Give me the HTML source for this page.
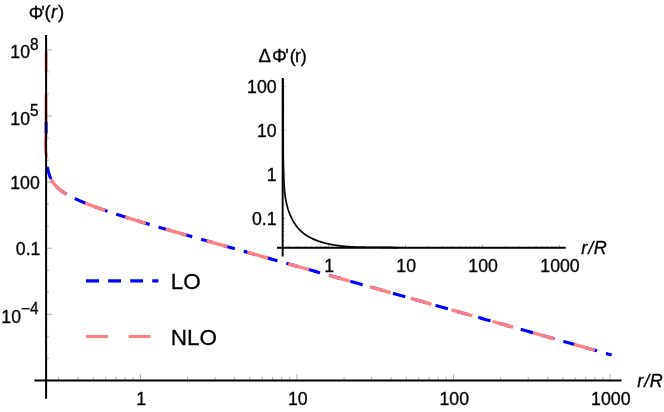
<!DOCTYPE html><html><head><meta charset="utf-8"><title>chart</title><style>html,body{margin:0;padding:0;background:#fff;overflow:hidden}svg{will-change:transform;transform:translateZ(0)}text{fill:#000;stroke:#000;stroke-width:0.3px}</style></head><body><svg width="664" height="412" viewBox="0 0 664 412" style="display:block;font-family:'Liberation Sans',sans-serif">
<rect width="664" height="412" fill="#fff"/>
<path d="M47.48,166.24 L47.54,166.72 L47.61,167.18 L47.68,167.61 L47.74,168.03 L47.81,168.43 L47.88,168.82 L47.95,169.19 L48.01,169.55 L48.08,169.89 L48.15,170.23 L48.22,170.55 L48.28,170.86 L48.35,171.16 L48.42,171.45 L48.49,171.74 L48.55,172.02 L48.62,172.29 L48.69,172.55 L48.75,172.80 L48.82,173.05 L48.89,173.29 L48.96,173.53 L49.02,173.76 L49.09,173.99 L49.16,174.21 L49.23,174.43 L49.29,174.64 L49.36,174.85 L49.43,175.05 L49.50,175.25 L49.56,175.44 L49.63,175.63 L49.70,175.82 L49.76,176.01 L49.83,176.19 L49.90,176.37 L49.97,176.54 L50.03,176.71 L50.10,176.88 L50.17,177.05 L50.24,177.21 L50.30,177.37 L50.37,177.53 L50.44,177.69 L50.51,177.84 L50.57,177.99 L50.64,178.14 L50.71,178.29 L50.77,178.43 L50.84,178.58 L50.91,178.72 L50.98,178.86 L51.04,178.99 L51.11,179.13 L51.18,179.26 L51.25,179.40 L51.31,179.53 L51.38,179.65 L51.45,179.78 L51.52,179.91 L51.58,180.03 L51.65,180.15 L51.72,180.28 L51.78,180.40 L51.85,180.51 L51.92,180.63 L51.99,180.75 L52.05,180.86 L52.12,180.98 L52.19,181.09 L52.26,181.20 L52.32,181.31 L52.39,181.42 L52.46,181.53 L52.53,181.63 L52.59,181.74 L52.66,181.84 L52.73,181.95 L52.79,182.05 L52.86,182.15 L52.93,182.25 L53.00,182.35 L53.06,182.45 L53.13,182.55 L53.20,182.65 L53.27,182.74 L53.33,182.84 L53.40,182.93 L53.47,183.03 L53.54,183.12 L53.60,183.21 L53.67,183.30 L53.74,183.39 L53.81,183.48 L53.87,183.57 L53.94,183.66 L54.01,183.75 L54.07,183.84 L54.14,183.92 L54.21,184.01 L54.28,184.09 L54.34,184.18 L54.41,184.26 L54.48,184.35 L54.55,184.43 L54.61,184.51 L54.68,184.59 L54.75,184.67 L54.82,184.75 L54.88,184.83 L54.95,184.91 L55.02,184.99 L55.08,185.07 L55.15,185.15 L55.22,185.22 L55.29,185.30 L55.35,185.38 L55.42,185.45 L55.49,185.53 L55.56,185.60 L55.62,185.68 L55.69,185.75 L55.76,185.82 L55.83,185.90 L55.89,185.97 L55.96,186.04 L56.03,186.11 L56.09,186.18 L56.16,186.25 L56.23,186.32 L56.30,186.39 L56.36,186.46 L56.43,186.53 L56.50,186.60 L56.57,186.67 L56.63,186.74 L56.70,186.80 L56.77,186.87 L56.84,186.94 L56.90,187.00 L56.97,187.07 L57.04,187.14 L57.10,187.20 L57.17,187.27 L57.24,187.33 L57.31,187.39 L57.37,187.46 L57.44,187.52 L57.51,187.59 L57.58,187.65 L57.64,187.71 L57.71,187.77 L57.78,187.84 L57.85,187.90 L57.91,187.96 L57.98,188.02 L58.05,188.08 L58.11,188.14 L58.18,188.20 L58.25,188.26 L58.32,188.32 L58.38,188.38 L58.45,188.44 L58.52,188.50 L58.59,188.56 L58.65,188.62 L58.72,188.67 L58.79,188.73 L58.86,188.79 L58.92,188.85 L58.99,188.90 L59.06,188.96 L59.12,189.02 L59.19,189.07 L59.26,189.13 L59.33,189.18 L59.39,189.24 L59.46,189.30 L59.53,189.35 L59.60,189.41 L59.66,189.46 L59.73,189.51 L59.80,189.57 L59.87,189.62 L59.93,189.68 L60.00,189.73 L60.92,190.44 L61.84,191.12 L62.76,191.77 L63.68,192.39 L64.60,192.99 L65.53,193.56 L66.45,194.12 L67.37,194.66 L68.29,195.18 L69.21,195.69 L70.13,196.18 L71.05,196.67 L71.97,197.14 L72.89,197.60 L73.81,198.05 L74.73,198.49 L75.65,198.93 L76.58,199.35 L77.50,199.77 L78.42,200.19 L79.34,200.59 L80.26,201.00 L81.18,201.39 L82.10,201.78 L83.02,202.17 L83.94,202.55 L84.86,202.92 L85.78,203.30 L86.71,203.66 L87.63,204.03 L88.55,204.39 L89.47,204.75 L90.39,205.10 L91.31,205.45 L92.23,205.80 L93.15,206.15 L94.07,206.49 L94.99,206.83 L95.91,207.17 L96.83,207.50 L97.76,207.83 L98.68,208.17 L99.60,208.49 L100.52,208.82 L101.44,209.15 L102.36,209.47 L103.28,209.79 L104.20,210.11 L105.12,210.43 L106.04,210.74 L106.96,211.06 L107.89,211.37 L108.81,211.68 L109.73,211.99 L110.65,212.30 L111.57,212.61 L112.49,212.91 L113.41,213.22 L114.33,213.52 L115.25,213.82 L116.17,214.12 L117.09,214.42 L118.01,214.72 L118.94,215.02 L119.86,215.32 L120.78,215.61 L121.70,215.91 L122.62,216.20 L123.54,216.49 L124.46,216.79 L125.38,217.08 L126.30,217.37 L127.22,217.66 L128.14,217.95 L129.07,218.23 L129.99,218.52 L130.91,218.81 L131.83,219.09 L132.75,219.38 L133.67,219.66 L134.59,219.94 L135.51,220.23 L136.43,220.51 L137.35,220.79 L138.27,221.07 L139.19,221.35 L140.12,221.63 L141.04,221.91 L141.96,222.18 L142.88,222.46 L143.80,222.74 L144.72,223.02 L145.64,223.29 L146.56,223.57 L147.48,223.84 L148.40,224.11 L149.32,224.39 L150.25,224.66 L151.17,224.93 L152.09,225.21 L153.01,225.48 L153.93,225.75 L154.85,226.02 L155.77,226.29 L156.69,226.56 L157.61,226.83 L158.53,227.10 L159.45,227.37 L160.37,227.64 L161.30,227.91 L162.22,228.17 L163.14,228.44 L164.06,228.71 L164.98,228.98 L165.90,229.24 L166.82,229.51 L167.74,229.77 L168.66,230.04 L169.58,230.31 L170.50,230.57 L171.43,230.84 L172.35,231.10 L173.27,231.36 L174.19,231.63 L175.11,231.89 L176.03,232.16 L176.95,232.42 L177.87,232.68 L178.79,232.94 L179.71,233.21 L180.63,233.47 L181.55,233.73 L182.48,233.99 L183.40,234.26 L184.32,234.52 L185.24,234.78 L186.16,235.04 L187.08,235.30 L188.00,235.56 L188.92,235.82 L189.84,236.08 L190.76,236.35 L191.68,236.61 L192.61,236.87 L193.53,237.13 L194.45,237.39 L195.37,237.65 L196.29,237.91 L197.21,238.17 L198.13,238.43 L199.05,238.69 L199.97,238.95 L200.89,239.20 L201.81,239.46 L202.73,239.72 L203.66,239.98 L204.58,240.24 L205.50,240.50 L206.42,240.76 L207.34,241.02 L208.26,241.28 L209.18,241.54 L210.10,241.80 L211.02,242.06 L211.94,242.31 L212.86,242.57 L213.78,242.83 L214.71,243.09 L215.63,243.35 L216.55,243.61 L217.47,243.87 L218.39,244.13 L219.31,244.38 L220.23,244.64 L221.15,244.90 L222.07,245.16 L222.99,245.42 L223.91,245.68 L224.84,245.94 L225.76,246.19 L226.68,246.45 L227.60,246.71 L228.52,246.97 L229.44,247.23 L230.36,247.49 L231.28,247.75 L232.20,248.01 L233.12,248.26 L234.04,248.52 L234.96,248.78 L235.89,249.04 L236.81,249.30 L237.73,249.56 L238.65,249.82 L239.57,250.08 L240.49,250.33 L241.41,250.59 L242.33,250.85 L243.25,251.11 L244.17,251.37 L245.09,251.63 L246.02,251.89 L246.94,252.15 L247.86,252.41 L248.78,252.67 L249.70,252.92 L250.62,253.18 L251.54,253.44 L252.46,253.70 L253.38,253.96 L254.30,254.22 L255.22,254.48 L256.14,254.74 L257.07,255.00 L257.99,255.26 L258.91,255.52 L259.83,255.78 L260.75,256.04 L261.67,256.29 L262.59,256.55 L263.51,256.81 L264.43,257.07 L265.35,257.33 L266.27,257.59 L267.20,257.85 L268.12,258.11 L269.04,258.37 L269.96,258.63 L270.88,258.89 L271.80,259.15 L272.72,259.41 L273.64,259.67 L274.56,259.93 L275.48,260.19 L276.40,260.45 L277.32,260.71 L278.25,260.97 L279.17,261.23 L280.09,261.49 L281.01,261.75 L281.93,262.01 L282.85,262.27 L283.77,262.53 L284.69,262.79 L285.61,263.05 L286.53,263.31 L287.45,263.57 L288.38,263.83 L289.30,264.09 L290.22,264.35 L291.14,264.61 L292.06,264.87 L292.98,265.13 L293.90,265.39 L294.82,265.65 L295.74,265.91 L296.66,266.17 L297.58,266.43 L298.50,266.69 L299.43,266.95 L300.35,267.21 L301.27,267.47 L302.19,267.73 L303.11,267.99 L304.03,268.25 L304.95,268.51 L305.87,268.77 L306.79,269.03 L307.71,269.29 L308.63,269.55 L309.56,269.81 L310.48,270.07 L311.40,270.33 L312.32,270.59 L313.24,270.85 L314.16,271.11 L315.08,271.37 L316.00,271.63 L316.92,271.89 L317.84,272.15 L318.76,272.41 L319.68,272.67 L320.61,272.93 L321.53,273.19 L322.45,273.45 L323.37,273.71 L324.29,273.97 L325.21,274.23 L326.13,274.49 L327.05,274.75 L327.97,275.01 L328.89,275.27 L329.81,275.53 L330.74,275.79 L331.66,276.05 L332.58,276.31 L333.50,276.57 L334.42,276.83 L335.34,277.09 L336.26,277.35 L337.18,277.61 L338.10,277.87 L339.02,278.13 L339.94,278.39 L340.86,278.65 L341.79,278.91 L342.71,279.17 L343.63,279.43 L344.55,279.69 L345.47,279.95 L346.39,280.21 L347.31,280.47 L348.23,280.73 L349.15,280.99 L350.07,281.25 L350.99,281.51 L351.92,281.77 L352.84,282.03 L353.76,282.29 L354.68,282.55 L355.60,282.80 L356.52,283.06 L357.44,283.32 L358.36,283.58 L359.28,283.84 L360.20,284.10 L361.12,284.36 L362.04,284.62 L362.97,284.88 L363.89,285.14 L364.81,285.40 L365.73,285.66 L366.65,285.92 L367.57,286.18 L368.49,286.44 L369.41,286.70 L370.33,286.96 L371.25,287.22 L372.17,287.48 L373.10,287.74 L374.02,288.00 L374.94,288.26 L375.86,288.52 L376.78,288.78 L377.70,289.04 L378.62,289.30 L379.54,289.56 L380.46,289.82 L381.38,290.08 L382.30,290.34 L383.22,290.60 L384.15,290.86 L385.07,291.12 L385.99,291.38 L386.91,291.64 L387.83,291.90 L388.75,292.16 L389.67,292.42 L390.59,292.68 L391.51,292.94 L392.43,293.20 L393.35,293.46 L394.28,293.71 L395.20,293.97 L396.12,294.23 L397.04,294.49 L397.96,294.75 L398.88,295.01 L399.80,295.27 L400.72,295.53 L401.64,295.79 L402.56,296.05 L403.48,296.31 L404.40,296.57 L405.33,296.83 L406.25,297.09 L407.17,297.35 L408.09,297.61 L409.01,297.87 L409.93,298.13 L410.85,298.39 L411.77,298.65 L412.69,298.91 L413.61,299.17 L414.53,299.43 L415.46,299.69 L416.38,299.95 L417.30,300.21 L418.22,300.46 L419.14,300.72 L420.06,300.98 L420.98,301.24 L421.90,301.50 L422.82,301.76 L423.74,302.02 L424.66,302.28 L425.58,302.54 L426.51,302.80 L427.43,303.06 L428.35,303.32 L429.27,303.58 L430.19,303.84 L431.11,304.10 L432.03,304.36 L432.95,304.62 L433.87,304.88 L434.79,305.14 L435.71,305.40 L436.64,305.66 L437.56,305.92 L438.48,306.17 L439.40,306.43 L440.32,306.69 L441.24,306.95 L442.16,307.21 L443.08,307.47 L444.00,307.73 L444.92,307.99 L445.84,308.25 L446.76,308.51 L447.69,308.77 L448.61,309.03 L449.53,309.29 L450.45,309.55 L451.37,309.81 L452.29,310.07 L453.21,310.33 L454.13,310.59 L455.05,310.85 L455.97,311.10 L456.89,311.36 L457.82,311.62 L458.74,311.88 L459.66,312.14 L460.58,312.40 L461.50,312.66 L462.42,312.92 L463.34,313.18 L464.26,313.44 L465.18,313.70 L466.10,313.96 L467.02,314.22 L467.94,314.48 L468.87,314.74 L469.79,315.00 L470.71,315.26 L471.63,315.52 L472.55,315.77 L473.47,316.03 L474.39,316.29 L475.31,316.55 L476.23,316.81 L477.15,317.07 L478.07,317.33 L478.99,317.59 L479.92,317.85 L480.84,318.11 L481.76,318.37 L482.68,318.63 L483.60,318.89 L484.52,319.15 L485.44,319.41 L486.36,319.67 L487.28,319.93 L488.20,320.18 L489.12,320.44 L490.05,320.70 L490.97,320.96 L491.89,321.22 L492.81,321.48 L493.73,321.74 L494.65,322.00 L495.57,322.26 L496.49,322.52 L497.41,322.78 L498.33,323.04 L499.25,323.30 L500.17,323.56 L501.10,323.82 L502.02,324.08 L502.94,324.34 L503.86,324.59 L504.78,324.85 L505.70,325.11 L506.62,325.37 L507.54,325.63 L508.46,325.89 L509.38,326.15 L510.30,326.41 L511.23,326.67 L512.15,326.93 L513.07,327.19 L513.99,327.45 L514.91,327.71 L515.83,327.97 L516.75,328.23 L517.67,328.49 L518.59,328.74 L519.51,329.00 L520.43,329.26 L521.35,329.52 L522.28,329.78 L523.20,330.04 L524.12,330.30 L525.04,330.56 L525.96,330.82 L526.88,331.08 L527.80,331.34 L528.72,331.60 L529.64,331.86 L530.56,332.12 L531.48,332.38 L532.41,332.64 L533.33,332.89 L534.25,333.15 L535.17,333.41 L536.09,333.67 L537.01,333.93 L537.93,334.19 L538.85,334.45 L539.77,334.71 L540.69,334.97 L541.61,335.23 L542.53,335.49 L543.46,335.75 L544.38,336.01 L545.30,336.27 L546.22,336.53 L547.14,336.79 L548.06,337.04 L548.98,337.30 L549.90,337.56 L550.82,337.82 L551.74,338.08 L552.66,338.34 L553.59,338.60 L554.51,338.86 L555.43,339.12 L556.35,339.38 L557.27,339.64 L558.19,339.90 L559.11,340.16 L560.03,340.42 L560.95,340.68 L561.87,340.93 L562.79,341.19 L563.71,341.45 L564.64,341.71 L565.56,341.97 L566.48,342.23 L567.40,342.49 L568.32,342.75 L569.24,343.01 L570.16,343.27 L571.08,343.53 L572.00,343.79 L572.92,344.05 L573.84,344.31 L574.77,344.57 L575.69,344.83 L576.61,345.08 L577.53,345.34 L578.45,345.60 L579.37,345.86 L580.29,346.12 L581.21,346.38 L582.13,346.64 L583.05,346.90 L583.97,347.16 L584.89,347.42 L585.82,347.68 L586.74,347.94 L587.66,348.20 L588.58,348.46 L589.50,348.72 L590.42,348.97 L591.34,349.23 L592.26,349.49 L593.18,349.75 L594.10,350.01 L595.02,350.27 L595.95,350.53 L596.87,350.79 L597.79,351.05 L598.71,351.31 L599.63,351.57 L600.55,351.83 L601.47,352.09 L602.39,352.35 L603.31,352.61 L604.23,352.86 L605.15,353.12 L606.07,353.38 L607.00,353.64 L607.92,353.90 L608.84,354.16 L609.76,354.42 L610.68,354.68 L611.60,354.94" fill="none" stroke="#0000ff" stroke-width="3.15" stroke-dasharray="12.9 9.24" stroke-dashoffset="21.76"/>
<path d="M47.48,166.24 L47.54,166.72 L47.61,167.18 L47.68,167.61 L47.74,168.03 L47.81,168.43 L47.88,168.82 L47.95,169.19 L48.01,169.55 L48.08,169.89 L48.15,170.23 L48.22,170.55 L48.28,170.86 L48.35,171.16 L48.42,171.45 L48.49,171.74 L48.55,172.02 L48.62,172.29 L48.69,172.55 L48.75,172.80 L48.82,173.05 L48.89,173.29 L48.96,173.53 L49.02,173.76 L49.09,173.99 L49.16,174.21 L49.23,174.43 L49.29,174.64 L49.36,174.85 L49.43,175.05 L49.50,175.25 L49.56,175.44 L49.63,175.63 L49.70,175.82 L49.76,176.01 L49.83,176.19 L49.90,176.37 L49.97,176.54 L50.03,176.71 L50.10,176.88 L50.17,177.05 L50.24,177.21 L50.30,177.37 L50.37,177.53 L50.44,177.69 L50.51,177.84 L50.57,177.99 L50.64,178.14 L50.71,178.29 L50.77,178.43 L50.84,178.58 L50.91,178.72 L50.98,178.86 L51.04,178.99 L51.11,179.13 L51.18,179.26 L51.25,179.40 L51.31,179.53 L51.38,179.65 L51.45,179.78 L51.52,179.91 L51.58,180.03 L51.65,180.15 L51.72,180.28 L51.78,180.40 L51.85,180.51 L51.92,180.63 L51.99,180.75 L52.05,180.86 L52.12,180.98 L52.19,181.09 L52.26,181.20 L52.32,181.31 L52.39,181.42 L52.46,181.53 L52.53,181.63 L52.59,181.74 L52.66,181.84 L52.73,181.95 L52.79,182.05 L52.86,182.15 L52.93,182.25 L53.00,182.35 L53.06,182.45 L53.13,182.55 L53.20,182.65 L53.27,182.74 L53.33,182.84 L53.40,182.93 L53.47,183.03 L53.54,183.12 L53.60,183.21 L53.67,183.30 L53.74,183.39 L53.81,183.48 L53.87,183.57 L53.94,183.66 L54.01,183.75 L54.07,183.84 L54.14,183.92 L54.21,184.01 L54.28,184.09 L54.34,184.18 L54.41,184.26 L54.48,184.35 L54.55,184.43 L54.61,184.51 L54.68,184.59 L54.75,184.67 L54.82,184.75 L54.88,184.83 L54.95,184.91 L55.02,184.99 L55.08,185.07 L55.15,185.15 L55.22,185.22 L55.29,185.30 L55.35,185.38 L55.42,185.45 L55.49,185.53 L55.56,185.60 L55.62,185.68 L55.69,185.75 L55.76,185.82 L55.83,185.90 L55.89,185.97 L55.96,186.04 L56.03,186.11 L56.09,186.18 L56.16,186.25 L56.23,186.32 L56.30,186.39 L56.36,186.46 L56.43,186.53 L56.50,186.60 L56.57,186.67 L56.63,186.74 L56.70,186.80 L56.77,186.87 L56.84,186.94 L56.90,187.00 L56.97,187.07 L57.04,187.14 L57.10,187.20 L57.17,187.27 L57.24,187.33 L57.31,187.39 L57.37,187.46 L57.44,187.52 L57.51,187.59 L57.58,187.65 L57.64,187.71 L57.71,187.77 L57.78,187.84 L57.85,187.90 L57.91,187.96 L57.98,188.02 L58.05,188.08 L58.11,188.14 L58.18,188.20 L58.25,188.26 L58.32,188.32 L58.38,188.38 L58.45,188.44 L58.52,188.50 L58.59,188.56 L58.65,188.62 L58.72,188.67 L58.79,188.73 L58.86,188.79 L58.92,188.85 L58.99,188.90 L59.06,188.96 L59.12,189.02 L59.19,189.07 L59.26,189.13 L59.33,189.18 L59.39,189.24 L59.46,189.30 L59.53,189.35 L59.60,189.41 L59.66,189.46 L59.73,189.51 L59.80,189.57 L59.87,189.62 L59.93,189.68 L60.00,189.73 L60.92,190.44 L61.84,191.12 L62.76,191.77 L63.68,192.39 L64.60,192.99 L65.53,193.56 L66.45,194.12 L67.37,194.66 L68.29,195.18 L69.21,195.69 L70.13,196.18 L71.05,196.67 L71.97,197.14 L72.89,197.60 L73.81,198.05 L74.73,198.49 L75.65,198.93 L76.58,199.35 L77.50,199.77 L78.42,200.19 L79.34,200.59 L80.26,201.00 L81.18,201.39 L82.10,201.78 L83.02,202.17 L83.94,202.55 L84.86,202.92 L85.78,203.30 L86.71,203.66 L87.63,204.03 L88.55,204.39 L89.47,204.75 L90.39,205.10 L91.31,205.45 L92.23,205.80 L93.15,206.15 L94.07,206.49 L94.99,206.83 L95.91,207.17 L96.83,207.50 L97.76,207.83 L98.68,208.17 L99.60,208.49 L100.52,208.82 L101.44,209.15 L102.36,209.47 L103.28,209.79 L104.20,210.11 L105.12,210.43 L106.04,210.74 L106.96,211.06 L107.89,211.37 L108.81,211.68 L109.73,211.99 L110.65,212.30 L111.57,212.61 L112.49,212.91 L113.41,213.22 L114.33,213.52 L115.25,213.82 L116.17,214.12 L117.09,214.42 L118.01,214.72 L118.94,215.02 L119.86,215.32 L120.78,215.61 L121.70,215.91 L122.62,216.20 L123.54,216.49 L124.46,216.79 L125.38,217.08 L126.30,217.37 L127.22,217.66 L128.14,217.95 L129.07,218.23 L129.99,218.52 L130.91,218.81 L131.83,219.09 L132.75,219.38 L133.67,219.66 L134.59,219.94 L135.51,220.23 L136.43,220.51 L137.35,220.79 L138.27,221.07 L139.19,221.35 L140.12,221.63 L141.04,221.91 L141.96,222.18 L142.88,222.46 L143.80,222.74 L144.72,223.02 L145.64,223.29 L146.56,223.57 L147.48,223.84 L148.40,224.11 L149.32,224.39 L150.25,224.66 L151.17,224.93 L152.09,225.21 L153.01,225.48 L153.93,225.75 L154.85,226.02 L155.77,226.29 L156.69,226.56 L157.61,226.83 L158.53,227.10 L159.45,227.37 L160.37,227.64 L161.30,227.91 L162.22,228.17 L163.14,228.44 L164.06,228.71 L164.98,228.98 L165.90,229.24 L166.82,229.51 L167.74,229.77 L168.66,230.04 L169.58,230.31 L170.50,230.57 L171.43,230.84 L172.35,231.10 L173.27,231.36 L174.19,231.63 L175.11,231.89 L176.03,232.16 L176.95,232.42 L177.87,232.68 L178.79,232.94 L179.71,233.21 L180.63,233.47 L181.55,233.73 L182.48,233.99 L183.40,234.26 L184.32,234.52 L185.24,234.78 L186.16,235.04 L187.08,235.30 L188.00,235.56 L188.92,235.82 L189.84,236.08 L190.76,236.35 L191.68,236.61 L192.61,236.87 L193.53,237.13 L194.45,237.39 L195.37,237.65 L196.29,237.91 L197.21,238.17 L198.13,238.43 L199.05,238.69 L199.97,238.95 L200.89,239.20 L201.81,239.46 L202.73,239.72 L203.66,239.98 L204.58,240.24 L205.50,240.50 L206.42,240.76 L207.34,241.02 L208.26,241.28 L209.18,241.54 L210.10,241.80 L211.02,242.06 L211.94,242.31 L212.86,242.57 L213.78,242.83 L214.71,243.09 L215.63,243.35 L216.55,243.61 L217.47,243.87 L218.39,244.13 L219.31,244.38 L220.23,244.64 L221.15,244.90 L222.07,245.16 L222.99,245.42 L223.91,245.68 L224.84,245.94 L225.76,246.19 L226.68,246.45 L227.60,246.71 L228.52,246.97 L229.44,247.23 L230.36,247.49 L231.28,247.75 L232.20,248.01 L233.12,248.26 L234.04,248.52 L234.96,248.78 L235.89,249.04 L236.81,249.30 L237.73,249.56 L238.65,249.82 L239.57,250.08 L240.49,250.33 L241.41,250.59 L242.33,250.85 L243.25,251.11 L244.17,251.37 L245.09,251.63 L246.02,251.89 L246.94,252.15 L247.86,252.41 L248.78,252.67 L249.70,252.92 L250.62,253.18 L251.54,253.44 L252.46,253.70 L253.38,253.96 L254.30,254.22 L255.22,254.48 L256.14,254.74 L257.07,255.00 L257.99,255.26 L258.91,255.52 L259.83,255.78 L260.75,256.04 L261.67,256.29 L262.59,256.55 L263.51,256.81 L264.43,257.07 L265.35,257.33 L266.27,257.59 L267.20,257.85 L268.12,258.11 L269.04,258.37 L269.96,258.63 L270.88,258.89 L271.80,259.15 L272.72,259.41 L273.64,259.67 L274.56,259.93 L275.48,260.19 L276.40,260.45 L277.32,260.71 L278.25,260.97 L279.17,261.23 L280.09,261.49 L281.01,261.75 L281.93,262.01 L282.85,262.27 L283.77,262.53 L284.69,262.79 L285.61,263.05 L286.53,263.31 L287.45,263.57 L288.38,263.83 L289.30,264.09 L290.22,264.35 L291.14,264.61 L292.06,264.87 L292.98,265.13 L293.90,265.39 L294.82,265.65 L295.74,265.91 L296.66,266.17 L297.58,266.43 L298.50,266.69 L299.43,266.95 L300.35,267.21 L301.27,267.47 L302.19,267.73 L303.11,267.99 L304.03,268.25 L304.95,268.51 L305.87,268.77 L306.79,269.03 L307.71,269.29 L308.63,269.55 L309.56,269.81 L310.48,270.07 L311.40,270.33 L312.32,270.59 L313.24,270.85 L314.16,271.11 L315.08,271.37 L316.00,271.63 L316.92,271.89 L317.84,272.15 L318.76,272.41 L319.68,272.67 L320.61,272.93 L321.53,273.19 L322.45,273.45 L323.37,273.71 L324.29,273.97 L325.21,274.23 L326.13,274.49 L327.05,274.75 L327.97,275.01 L328.89,275.27 L329.81,275.53 L330.74,275.79 L331.66,276.05 L332.58,276.31 L333.50,276.57 L334.42,276.83 L335.34,277.09 L336.26,277.35 L337.18,277.61 L338.10,277.87 L339.02,278.13 L339.94,278.39 L340.86,278.65 L341.79,278.91 L342.71,279.17 L343.63,279.43 L344.55,279.69 L345.47,279.95 L346.39,280.21 L347.31,280.47 L348.23,280.73 L349.15,280.99 L350.07,281.25 L350.99,281.51 L351.92,281.77 L352.84,282.03 L353.76,282.29 L354.68,282.55 L355.60,282.80 L356.52,283.06 L357.44,283.32 L358.36,283.58 L359.28,283.84 L360.20,284.10 L361.12,284.36 L362.04,284.62 L362.97,284.88 L363.89,285.14 L364.81,285.40 L365.73,285.66 L366.65,285.92 L367.57,286.18 L368.49,286.44 L369.41,286.70 L370.33,286.96 L371.25,287.22 L372.17,287.48 L373.10,287.74 L374.02,288.00 L374.94,288.26 L375.86,288.52 L376.78,288.78 L377.70,289.04 L378.62,289.30 L379.54,289.56 L380.46,289.82 L381.38,290.08 L382.30,290.34 L383.22,290.60 L384.15,290.86 L385.07,291.12 L385.99,291.38 L386.91,291.64 L387.83,291.90 L388.75,292.16 L389.67,292.42 L390.59,292.68 L391.51,292.94 L392.43,293.20 L393.35,293.46 L394.28,293.71 L395.20,293.97 L396.12,294.23 L397.04,294.49 L397.96,294.75 L398.88,295.01 L399.80,295.27 L400.72,295.53 L401.64,295.79 L402.56,296.05 L403.48,296.31 L404.40,296.57 L405.33,296.83 L406.25,297.09 L407.17,297.35 L408.09,297.61 L409.01,297.87 L409.93,298.13 L410.85,298.39 L411.77,298.65 L412.69,298.91 L413.61,299.17 L414.53,299.43 L415.46,299.69 L416.38,299.95 L417.30,300.21 L418.22,300.46 L419.14,300.72 L420.06,300.98 L420.98,301.24 L421.90,301.50 L422.82,301.76 L423.74,302.02 L424.66,302.28 L425.58,302.54 L426.51,302.80 L427.43,303.06 L428.35,303.32 L429.27,303.58 L430.19,303.84 L431.11,304.10 L432.03,304.36 L432.95,304.62 L433.87,304.88 L434.79,305.14 L435.71,305.40 L436.64,305.66 L437.56,305.92 L438.48,306.17 L439.40,306.43 L440.32,306.69 L441.24,306.95 L442.16,307.21 L443.08,307.47 L444.00,307.73 L444.92,307.99 L445.84,308.25 L446.76,308.51 L447.69,308.77 L448.61,309.03 L449.53,309.29 L450.45,309.55 L451.37,309.81 L452.29,310.07 L453.21,310.33 L454.13,310.59 L455.05,310.85 L455.97,311.10 L456.89,311.36 L457.82,311.62 L458.74,311.88 L459.66,312.14 L460.58,312.40 L461.50,312.66 L462.42,312.92 L463.34,313.18 L464.26,313.44 L465.18,313.70 L466.10,313.96 L467.02,314.22 L467.94,314.48 L468.87,314.74 L469.79,315.00 L470.71,315.26 L471.63,315.52 L472.55,315.77 L473.47,316.03 L474.39,316.29 L475.31,316.55 L476.23,316.81 L477.15,317.07 L478.07,317.33 L478.99,317.59 L479.92,317.85 L480.84,318.11 L481.76,318.37 L482.68,318.63 L483.60,318.89 L484.52,319.15 L485.44,319.41 L486.36,319.67 L487.28,319.93 L488.20,320.18 L489.12,320.44 L490.05,320.70 L490.97,320.96 L491.89,321.22 L492.81,321.48 L493.73,321.74 L494.65,322.00 L495.57,322.26 L496.49,322.52 L497.41,322.78 L498.33,323.04 L499.25,323.30 L500.17,323.56 L501.10,323.82 L502.02,324.08 L502.94,324.34 L503.86,324.59 L504.78,324.85 L505.70,325.11 L506.62,325.37 L507.54,325.63 L508.46,325.89 L509.38,326.15 L510.30,326.41 L511.23,326.67 L512.15,326.93 L513.07,327.19 L513.99,327.45 L514.91,327.71 L515.83,327.97 L516.75,328.23 L517.67,328.49 L518.59,328.74 L519.51,329.00 L520.43,329.26 L521.35,329.52 L522.28,329.78 L523.20,330.04 L524.12,330.30 L525.04,330.56 L525.96,330.82 L526.88,331.08 L527.80,331.34 L528.72,331.60 L529.64,331.86 L530.56,332.12 L531.48,332.38 L532.41,332.64 L533.33,332.89 L534.25,333.15 L535.17,333.41 L536.09,333.67 L537.01,333.93 L537.93,334.19 L538.85,334.45 L539.77,334.71 L540.69,334.97 L541.61,335.23 L542.53,335.49 L543.46,335.75 L544.38,336.01 L545.30,336.27 L546.22,336.53 L547.14,336.79 L548.06,337.04 L548.98,337.30 L549.90,337.56 L550.82,337.82 L551.74,338.08 L552.66,338.34 L553.59,338.60 L554.51,338.86 L555.43,339.12 L556.35,339.38 L557.27,339.64 L558.19,339.90 L559.11,340.16 L560.03,340.42 L560.95,340.68 L561.87,340.93 L562.79,341.19 L563.71,341.45 L564.64,341.71 L565.56,341.97 L566.48,342.23 L567.40,342.49 L568.32,342.75 L569.24,343.01 L570.16,343.27 L571.08,343.53 L572.00,343.79 L572.92,344.05 L573.84,344.31 L574.77,344.57 L575.69,344.83 L576.61,345.08 L577.53,345.34 L578.45,345.60 L579.37,345.86 L580.29,346.12 L581.21,346.38 L582.13,346.64 L583.05,346.90 L583.97,347.16 L584.89,347.42 L585.82,347.68 L586.74,347.94 L587.66,348.20 L588.58,348.46 L589.50,348.72 L590.42,348.97 L591.34,349.23 L592.26,349.49 L593.18,349.75 L594.10,350.01 L595.02,350.27 L595.95,350.53 L596.87,350.79 L597.79,351.05 L598.71,351.31 L599.63,351.57 L600.55,351.83 L601.47,352.09 L602.39,352.35 L603.31,352.61 L604.23,352.86 L605.15,353.12 L606.07,353.38 L607.00,353.64 L607.92,353.90 L608.84,354.16 L609.76,354.42 L610.68,354.68 L611.60,354.94" fill="none" stroke="#ff8080" stroke-width="3.3" stroke-dasharray="21.6 20.82" stroke-dashoffset="28.94"/>
<path d="M46.2,51.7V72 M46.0,94.4V121.7" fill="none" stroke="#ff8080" stroke-width="3.05"/>
<path d="M46.0,133.4 C45.0,140 45.2,150 46.6,157.5" fill="none" stroke="#ff8080" stroke-width="3.05"/>
<path d="M46.1,121.7V133.4" fill="none" stroke="#0000ff" stroke-width="3.15"/>
<path d="M46.1,358.42h2.9 M46.1,336.38h2.9 M46.1,314.34h5.9 M46.1,292.30h2.9 M46.1,270.26h2.9 M46.1,248.22h5.9 M46.1,226.18h2.9 M46.1,204.14h2.9 M46.1,182.10h5.9 M46.1,160.06h2.9 M46.1,138.02h2.9 M46.1,115.98h5.9 M46.1,93.94h2.9 M46.1,71.90h2.9 M46.1,49.86h5.9 M58.55,380.4v-3.4 M78.11,380.4v-3.4 M93.28,380.4v-3.4 M105.67,380.4v-3.4 M116.15,380.4v-3.4 M125.23,380.4v-3.4 M133.24,380.4v-3.4 M140.40,380.4v-6.3 M187.52,380.4v-3.4 M215.08,380.4v-3.4 M234.64,380.4v-3.4 M249.81,380.4v-3.4 M262.20,380.4v-3.4 M272.68,380.4v-3.4 M281.76,380.4v-3.4 M289.77,380.4v-3.4 M296.93,380.4v-6.3 M344.05,380.4v-3.4 M371.61,380.4v-3.4 M391.17,380.4v-3.4 M406.34,380.4v-3.4 M418.73,380.4v-3.4 M429.21,380.4v-3.4 M438.29,380.4v-3.4 M446.30,380.4v-3.4 M453.46,380.4v-6.3 M500.58,380.4v-3.4 M528.14,380.4v-3.4 M547.70,380.4v-3.4 M562.87,380.4v-3.4 M575.26,380.4v-3.4 M585.74,380.4v-3.4 M594.82,380.4v-3.4 M602.83,380.4v-3.4 M609.99,380.4v-6.3" stroke="#6a6a6a" stroke-width="0.55" fill="none"/>
<path d="M46.1,34.9V398.7 M34.4,380.4H621.5" stroke="#000" stroke-width="2" fill="none"/>
<text transform="translate(38.6,58.4) scale(0.965,1)" font-size="18.35" text-anchor="end">10<tspan font-size="16" dy="-8.5">8</tspan></text>
<text transform="translate(38.6,124.5) scale(0.965,1)" font-size="18.35" text-anchor="end">10<tspan font-size="16" dy="-8.5">5</tspan></text>
<text transform="translate(39.80,188.60) scale(0.965,1)" font-size="18.35" text-anchor="end" >100</text>
<text transform="translate(40.40,254.50) scale(0.965,1)" font-size="18.35" text-anchor="end" >0.1</text>
<text transform="translate(38.6,322.6) scale(0.965,1)" font-size="18.35" text-anchor="end">10<tspan font-size="16" dy="-8.5">−4</tspan></text>
<text transform="translate(141.20,404.60) scale(0.965,1)" font-size="18.35" text-anchor="middle" >1</text>
<text transform="translate(297.73,404.60) scale(0.965,1)" font-size="18.35" text-anchor="middle" >10</text>
<text transform="translate(454.26,404.60) scale(0.965,1)" font-size="18.35" text-anchor="middle" >100</text>
<text transform="translate(610.79,404.60) scale(0.965,1)" font-size="18.35" text-anchor="middle" >1000</text>
<text y="18.1" font-size="18.6"><tspan x="28.8" y="18.8" font-size="18.2">Φ</tspan><tspan x="41.2" y="18.5">'</tspan><tspan x="44.55" y="18.1">(</tspan><tspan x="50.9" font-style="italic">r</tspan><tspan x="58.1">)</tspan></text>
<text y="386.5" font-size="18" font-style="italic"><tspan x="637.3">r</tspan><tspan x="644.2">/</tspan><tspan x="649.7">R</tspan></text>
<path d="M86.1,280.9H158.4" stroke="#0000ff" stroke-width="3.15" stroke-dasharray="12.9 9.15" fill="none"/>
<path d="M86.1,336.4H158.4" stroke="#ff8080" stroke-width="3.05" stroke-dasharray="21.8 20.8" fill="none"/>
<text transform="translate(170.80,289.20) scale(1,1)" font-size="22.5" text-anchor="start" >LO</text>
<text transform="translate(170.80,344.50) scale(1,1)" font-size="22.5" text-anchor="start" >NLO</text>
<path d="M282.88,77.99 L282.89,78.64 L282.91,79.29 L282.92,79.94 L282.93,80.59 L282.95,81.24 L282.96,81.89 L282.97,82.54 L282.98,83.19 L282.99,83.84 L283.00,84.49 L283.01,85.14 L283.02,85.78 L283.03,86.43 L283.04,87.08 L283.05,87.73 L283.05,88.38 L283.06,89.03 L283.07,89.68 L283.08,90.32 L283.08,90.97 L283.09,91.62 L283.10,92.27 L283.10,92.92 L283.11,93.56 L283.11,94.21 L283.12,94.86 L283.12,95.51 L283.12,96.15 L283.13,96.80 L283.13,97.45 L283.13,98.09 L283.14,98.74 L283.14,99.39 L283.14,100.04 L283.15,100.68 L283.15,101.33 L283.15,101.98 L283.15,102.62 L283.15,103.27 L283.15,103.92 L283.16,104.56 L283.16,105.21 L283.16,105.85 L283.16,106.50 L283.16,107.15 L283.16,107.79 L283.16,108.44 L283.16,109.08 L283.16,109.73 L283.16,110.38 L283.16,111.02 L283.16,111.67 L283.16,112.31 L283.16,112.96 L283.15,113.60 L283.15,114.25 L283.15,114.89 L283.15,115.54 L283.15,116.19 L283.15,116.83 L283.15,117.48 L283.15,118.12 L283.15,118.77 L283.14,119.41 L283.14,120.06 L283.14,120.70 L283.14,121.35 L283.14,121.99 L283.14,122.64 L283.14,123.28 L283.14,123.93 L283.13,124.57 L283.13,125.21 L283.13,125.86 L283.13,126.50 L283.13,127.15 L283.13,127.79 L283.13,128.44 L283.13,129.08 L283.13,129.73 L283.13,130.37 L283.13,131.02 L283.12,131.66 L283.12,132.30 L283.12,132.95 L283.12,133.59 L283.12,134.24 L283.12,134.88 L283.12,135.53 L283.13,136.17 L283.13,136.82 L283.13,137.46 L283.13,138.10 L283.13,138.75 L283.13,139.39 L283.13,140.04 L283.13,140.68 L283.14,141.33 L283.14,141.97 L283.14,142.61 L283.14,143.26 L283.15,143.90 L283.15,144.55 L283.15,145.19 L283.16,145.84 L283.16,146.48 L283.16,147.12 L283.17,147.77 L283.17,148.41 L283.18,149.06 L283.18,149.70 L283.19,150.35 L283.20,150.99 L283.20,151.63 L283.21,152.28 L283.22,152.92 L283.22,153.57 L283.23,154.21 L283.24,154.86 L283.25,155.50 L283.26,156.14 L283.27,156.79 L283.28,157.43 L283.29,158.08 L283.30,158.72 L283.31,159.37 L283.32,160.01 L283.33,160.66 L283.34,161.30 L283.36,161.95 L283.37,162.59 L283.38,163.24 L283.40,163.88 L283.41,164.53 L283.42,165.17 L283.44,165.82 L283.46,166.46 L283.47,167.11 L283.49,167.75 L283.51,168.40 L283.52,169.04 L283.54,169.69 L283.56,170.33 L283.58,170.98 L283.60,171.62 L283.62,172.27 L283.64,172.91 L283.66,173.56 L283.69,174.20 L283.71,174.85 L283.73,175.50 L283.76,176.14 L283.78,176.79 L283.81,177.43 L283.83,178.08 L283.86,178.73 L283.89,179.37 L283.91,180.02 L283.94,180.66 L283.97,181.31 L284.00,181.96 L284.03,182.60 L284.07,183.25 L284.10,183.90 L284.14,184.54 L284.17,185.19 L284.21,185.84 L284.25,186.48 L284.30,187.13 L284.34,187.77 L284.39,188.42 L284.44,189.07 L284.49,189.71 L284.55,190.36 L284.60,191.00 L284.67,191.65 L284.73,192.29 L284.80,192.94 L284.87,193.58 L284.95,194.23 L285.03,194.87 L285.11,195.52 L285.20,196.16 L285.29,196.81 L285.38,197.45 L285.48,198.09 L285.59,198.74 L285.70,199.38 L285.81,200.02 L285.93,200.66 L286.06,201.31 L286.19,201.95 L286.32,202.59 L286.46,203.23 L286.61,203.87 L286.76,204.51 L286.92,205.15 L287.08,205.78 L287.25,206.42 L287.43,207.05 L287.61,207.68 L287.79,208.31 L287.99,208.94 L288.18,209.57 L288.39,210.19 L288.59,210.81 L288.81,211.43 L289.03,212.05 L289.26,212.66 L289.49,213.27 L289.73,213.88 L289.97,214.49 L290.22,215.09 L290.48,215.69 L290.74,216.28 L291.01,216.87 L291.29,217.46 L291.57,218.04 L291.86,218.62 L292.15,219.19 L292.45,219.76 L292.76,220.33 L293.08,220.89 L293.40,221.45 L293.72,222.00 L294.05,222.54 L294.39,223.08 L294.74,223.62 L295.09,224.15 L295.45,224.67 L295.82,225.19 L296.19,225.70 L296.57,226.20 L296.96,226.70 L297.35,227.19 L297.75,227.68 L298.16,228.16 L298.57,228.63 L298.99,229.10 L299.42,229.55 L299.86,230.00 L300.30,230.45 L300.75,230.88 L301.20,231.31 L301.67,231.73 L302.14,232.14 L302.62,232.55 L303.10,232.94 L303.59,233.33 L304.09,233.72 L304.59,234.09 L305.10,234.46 L305.62,234.82 L306.14,235.17 L306.67,235.51 L307.20,235.85 L307.74,236.18 L308.28,236.51 L308.83,236.83 L309.39,237.14 L309.95,237.44 L310.51,237.74 L311.08,238.03 L311.66,238.32 L312.24,238.60 L312.82,238.87 L313.41,239.13 L314.00,239.39 L314.59,239.65 L315.19,239.90 L315.79,240.14 L316.40,240.38 L317.01,240.61 L317.62,240.83 L318.23,241.05 L318.85,241.27 L319.47,241.48 L320.09,241.68 L320.72,241.88 L321.35,242.08 L321.98,242.27 L322.61,242.45 L323.24,242.63 L323.88,242.80 L324.52,242.97 L325.16,243.14 L325.80,243.30 L326.44,243.46 L327.08,243.61 L327.73,243.75 L328.37,243.90 L329.02,244.04 L329.66,244.17 L330.31,244.30 L330.96,244.43 L331.60,244.55 L332.25,244.67 L332.90,244.79 L333.54,244.90 L334.19,245.01 L334.83,245.12 L335.48,245.22 L336.12,245.32 L336.77,245.41 L337.41,245.51 L338.06,245.60 L338.70,245.68 L339.35,245.77 L339.99,245.85 L340.64,245.92 L341.28,246.00 L341.92,246.07 L342.57,246.14 L343.21,246.20 L343.85,246.27 L344.50,246.33 L345.14,246.39 L345.78,246.44 L346.43,246.49 L347.07,246.54 L347.71,246.59 L348.35,246.64 L349.00,246.68 L349.64,246.72 L350.28,246.76 L350.92,246.80 L351.56,246.84 L352.21,246.87 L352.85,246.90 L353.49,246.93 L354.13,246.96 L354.77,246.99 L355.41,247.01 L356.06,247.03 L356.70,247.06 L357.34,247.08 L357.98,247.10 L358.62,247.11 L359.26,247.13 L359.91,247.14 L360.55,247.16 L361.19,247.17 L361.83,247.18 L362.47,247.19 L363.11,247.20 L363.76,247.21 L364.40,247.21 L365.04,247.22 L365.68,247.23 L366.32,247.23 L366.97,247.24 L367.61,247.24 L368.25,247.24 L368.89,247.25 L369.53,247.25 L370.18,247.25 L370.82,247.25 L371.46,247.25 L372.11,247.25 L372.75,247.26 L373.39,247.26 L374.04,247.26 L374.68,247.26 L375.32,247.26 L375.97,247.26 L376.61,247.26 L377.25,247.26 L377.90,247.26 L378.54,247.27 L379.19,247.27 L379.83,247.27 L380.48,247.28 L381.12,247.28 L381.77,247.28 L382.42,247.29 L383.06,247.30 L383.71,247.30 L384.35,247.31 L385.00,247.32 L385.65,247.33 L386.30,247.34 L386.94,247.35 L387.59,247.36 L388.24,247.38 L388.89,247.39 L389.54,247.41 L390.18,247.43 L390.83,247.45 L391.48,247.47 L392.13,247.49 L392.78,247.51 L393.43,247.54 L394.09,247.57 L394.74,247.60 L395.39,247.63 L396.04,247.66 L396.69,247.69 L397.35,247.73 L398.00,247.77" fill="none" stroke="#000" stroke-width="1.7"/>
<path d="M282.65,217.97h3 M282.65,204.76h1.8 M282.65,197.04h1.8 M282.65,191.56h1.8 M282.65,187.31h1.8 M282.65,183.83h1.8 M282.65,180.90h1.8 M282.65,178.35h1.8 M282.65,176.11h1.8 M282.65,174.10h3 M282.65,160.89h1.8 M282.65,153.17h1.8 M282.65,147.69h1.8 M282.65,143.44h1.8 M282.65,139.96h1.8 M282.65,137.03h1.8 M282.65,134.48h1.8 M282.65,132.24h1.8 M282.65,130.23h3 M282.65,117.02h1.8 M282.65,109.30h1.8 M282.65,103.82h1.8 M282.65,99.57h1.8 M282.65,96.09h1.8 M282.65,93.16h1.8 M282.65,90.61h1.8 M282.65,88.37h1.8 M282.65,86.36h3 M282.65,240.91h1.8 M282.65,235.43h1.8 M282.65,231.18h1.8 M282.65,227.70h1.8 M282.65,224.77h1.8 M282.65,222.22h1.8 M282.65,219.98h1.8 M288.37,247.8v-1.8 M297.99,247.8v-1.8 M305.44,247.8v-1.8 M311.53,247.8v-1.8 M316.68,247.8v-1.8 M321.14,247.8v-1.8 M325.08,247.8v-1.8 M328.60,247.8v-3 M351.76,247.8v-1.8 M365.30,247.8v-1.8 M374.92,247.8v-1.8 M382.37,247.8v-1.8 M388.46,247.8v-1.8 M393.61,247.8v-1.8 M398.07,247.8v-1.8 M402.01,247.8v-1.8 M405.53,247.8v-3 M428.69,247.8v-1.8 M442.23,247.8v-1.8 M451.85,247.8v-1.8 M459.30,247.8v-1.8 M465.39,247.8v-1.8 M470.54,247.8v-1.8 M475.00,247.8v-1.8 M478.94,247.8v-1.8 M482.46,247.8v-3 M505.62,247.8v-1.8 M519.16,247.8v-1.8 M528.78,247.8v-1.8 M536.23,247.8v-1.8 M542.32,247.8v-1.8 M547.47,247.8v-1.8 M551.93,247.8v-1.8 M555.87,247.8v-1.8 M559.39,247.8v-3" stroke="#6a6a6a" stroke-width="0.6" fill="none"/>
<path d="M282.65,78V256.6 M277,247.8H565.7" stroke="#000" stroke-width="1.9" fill="none"/>
<text transform="translate(276.60,93.36) scale(0.965,1)" font-size="18.35" text-anchor="end" >100</text>
<text transform="translate(276.60,137.23) scale(0.965,1)" font-size="18.35" text-anchor="end" >10</text>
<text transform="translate(276.60,181.10) scale(0.965,1)" font-size="18.35" text-anchor="end" >1</text>
<text transform="translate(276.60,224.97) scale(0.965,1)" font-size="18.35" text-anchor="end" >0.1</text>
<text transform="translate(329.20,272.00) scale(0.965,1)" font-size="18.35" text-anchor="middle" >1</text>
<text transform="translate(406.13,272.00) scale(0.965,1)" font-size="18.35" text-anchor="middle" >10</text>
<text transform="translate(483.06,272.00) scale(0.965,1)" font-size="18.35" text-anchor="middle" >100</text>
<text transform="translate(559.99,272.00) scale(0.965,1)" font-size="18.35" text-anchor="middle" >1000</text>
<text y="61.6" font-size="18"><tspan x="258.4" font-size="18.7">Δ</tspan><tspan x="271.9" font-size="18.6">Φ</tspan><tspan x="285.2">'</tspan><tspan x="289.8">(</tspan><tspan x="295.0">r</tspan><tspan x="300.85">)</tspan></text>
<text y="253.6" font-size="18" font-style="italic"><tspan x="581.3">r</tspan><tspan x="588.2">/</tspan><tspan x="593.7">R</tspan></text>
</svg></body></html>
